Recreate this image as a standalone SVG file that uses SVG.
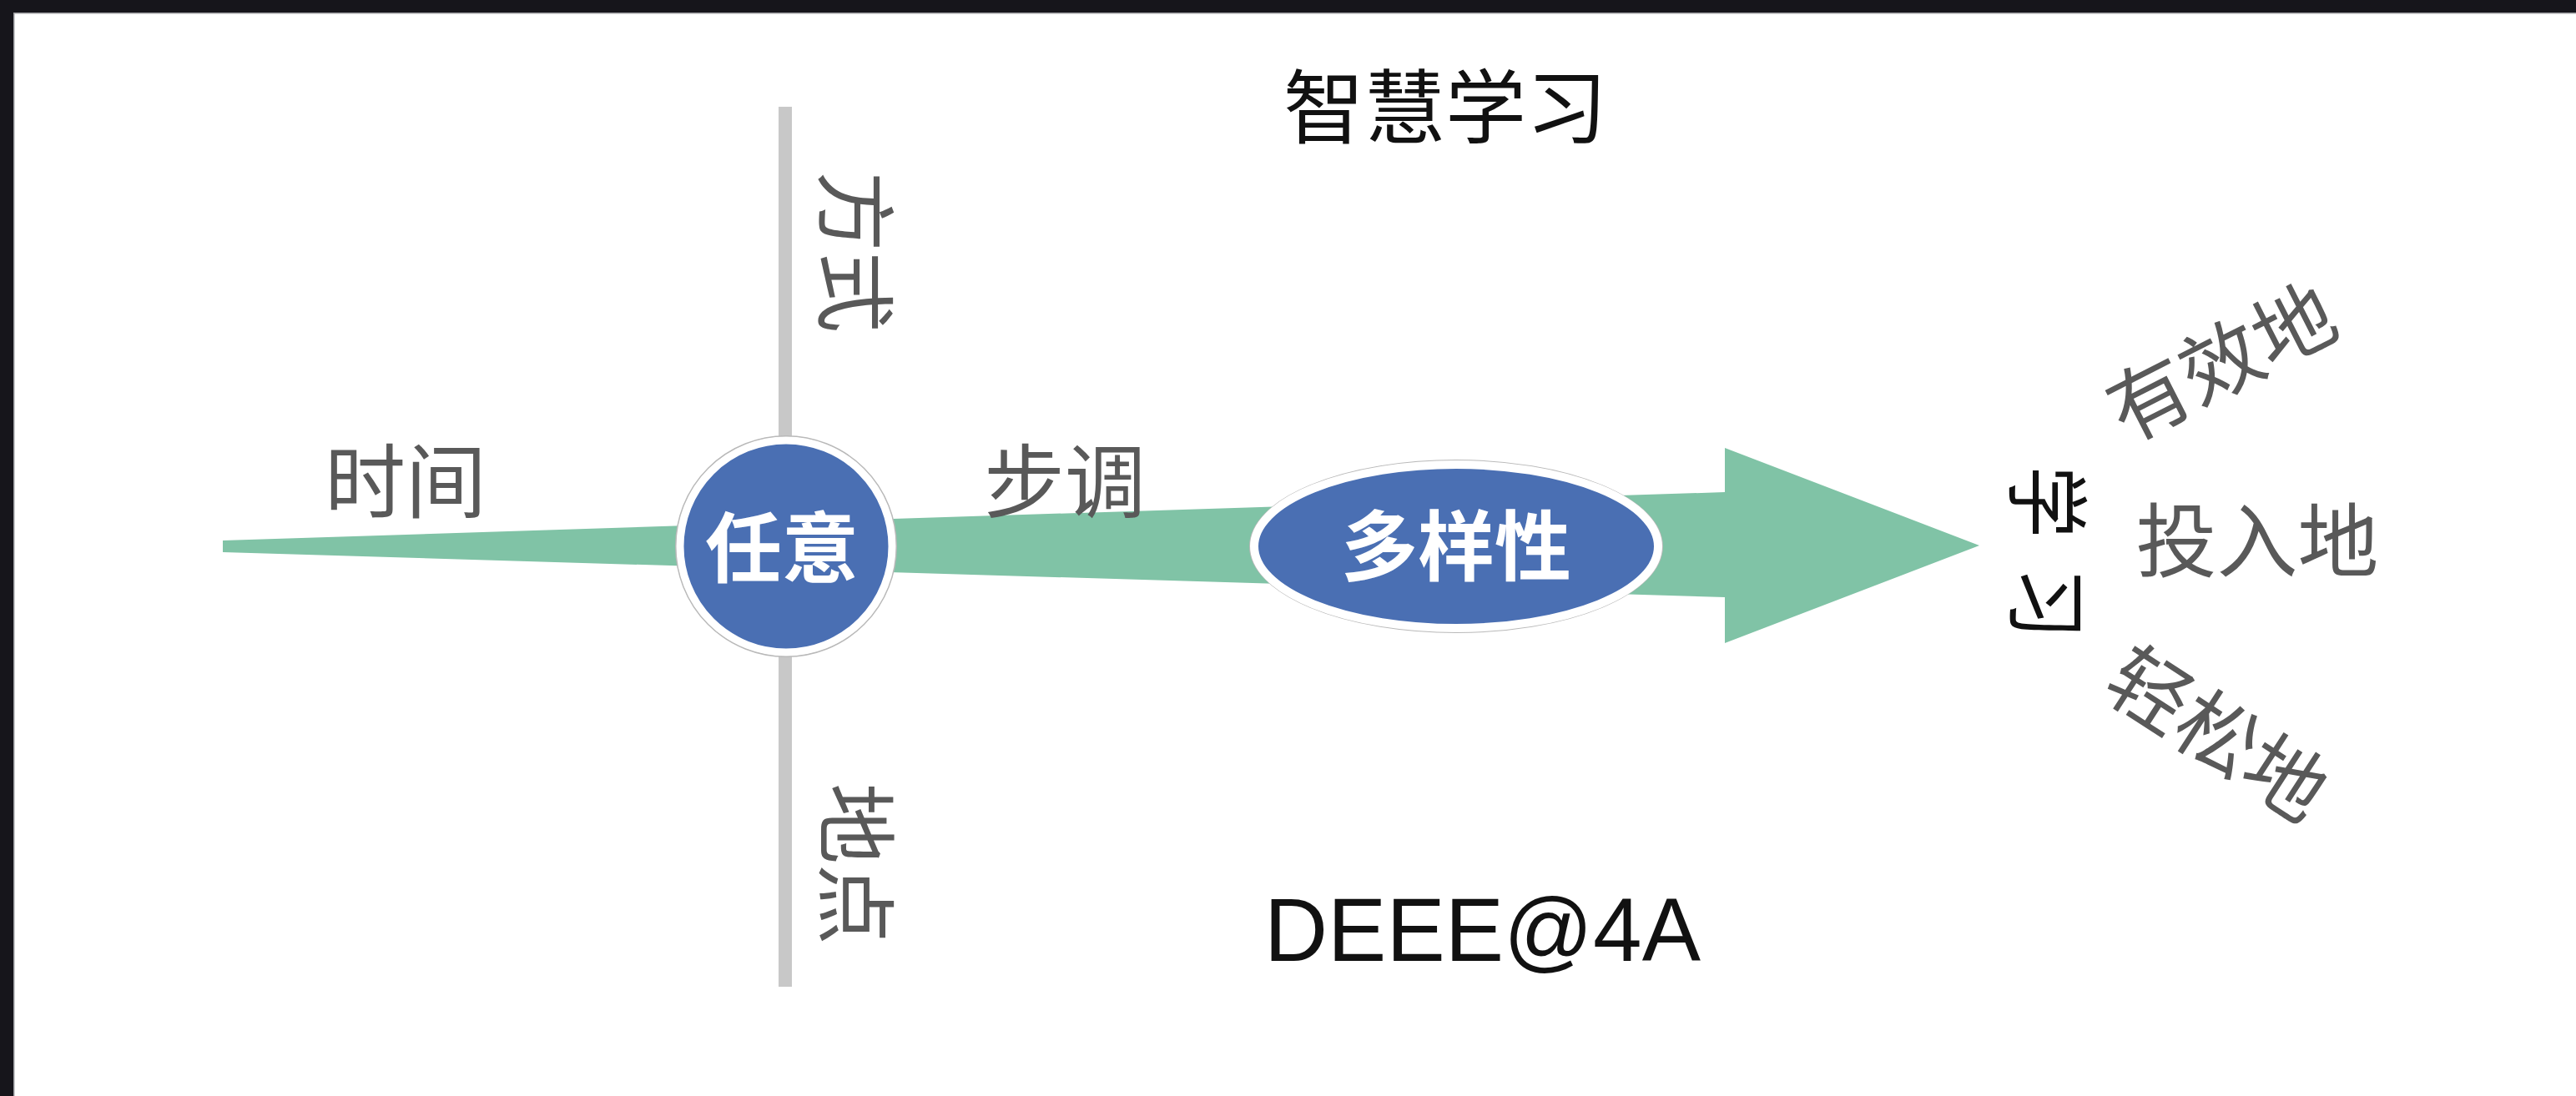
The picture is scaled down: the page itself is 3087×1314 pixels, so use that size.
<svg xmlns="http://www.w3.org/2000/svg" width="3087" height="1314" viewBox="0 0 3087 1314">
<style>
.cjk{font-family:"Noto Sans CJK SC","Noto Sans",sans-serif;}
.lbl{fill:#595959;font-size:97px;}
.blk{fill:#111111;}
.node-text{fill:#ffffff;font-weight:bold;font-size:92px;text-anchor:middle;}
.mid{text-anchor:middle;}
.blue{fill:#4a6fb3;stroke:#ffffff;}
.rim{fill:none;stroke:#b9b9b9;stroke-width:2;}
</style>
<rect x="0" y="0" width="3087" height="1314" fill="#ffffff"/>
<g id="frame">
<rect x="0" y="0" width="3087" height="15" fill="#16151b"/>
<rect x="0" y="0" width="16" height="1314" fill="#16151b"/>
<rect x="16" y="15" width="3071" height="1.5" fill="#9a9a9e"/>
<rect x="16" y="15" width="1.5" height="1299" fill="#9a9a9e"/>
</g>
<g id="connectors">
<rect id="axis" x="933" y="128" width="16" height="1055" fill="#c8c8c8"/>
<polygon id="arrow" points="267,648 2067,590 2067,537 2372,654 2067,771 2067,716 267,662" fill="#80c3a6"/>
</g>
<g id="node-renyi">
<circle cx="942" cy="655" r="132" class="rim"/>
<circle cx="942" cy="655" r="127" class="blue" stroke-width="9"/>
<text class="cjk node-text" x="937" y="691">任意</text>
</g>
<g id="node-duoyangxing">
<ellipse cx="1745" cy="655" rx="247" ry="103" class="rim"/>
<ellipse cx="1745" cy="655" rx="242" ry="98" class="blue" stroke-width="10"/>
<text class="cjk node-text" x="1745" y="689">多样性</text>
</g>
<g id="label-title">
<text class="cjk blk mid" x="1732" y="164" font-size="97">智慧学习</text>
</g>
<g id="label-shijian">
<text class="cjk lbl mid" x="486" y="613">时间</text>
</g>
<g id="label-budiao">
<text class="cjk lbl mid" x="1276" y="613">步调</text>
</g>
<g id="label-fangshi">
<text class="cjk lbl mid" transform="translate(1026,302) rotate(90)" x="0" y="37">方式</text>
</g>
<g id="label-didian">
<text class="cjk lbl mid" transform="translate(1027,1036) rotate(90)" x="0" y="37">地点</text>
</g>
<g id="label-xuexi">
<text class="cjk blk mid" font-size="100" transform="translate(2454,662) rotate(90) scale(0.86,1)" x="-70 71" y="38">学习</text>
</g>
<g id="label-youxiaodi">
<text class="cjk lbl mid" font-size="100" transform="translate(2661,432) rotate(-27)" x="0" y="38">有效地</text>
</g>
<g id="label-tourudi">
<text class="cjk lbl mid" font-size="100" x="2705" y="684">投入地</text>
</g>
<g id="label-qingsongdi">
<text class="cjk lbl mid" font-size="100" transform="translate(2659,878) rotate(33)" x="0" y="38">轻松地</text>
</g>
<g id="label-footer">
<text x="1515" y="1152" font-family="Liberation Sans, Arial, sans-serif" font-size="108" fill="#111111" textLength="523" lengthAdjust="spacingAndGlyphs">DEEE@4A</text>
</g>
</svg>
